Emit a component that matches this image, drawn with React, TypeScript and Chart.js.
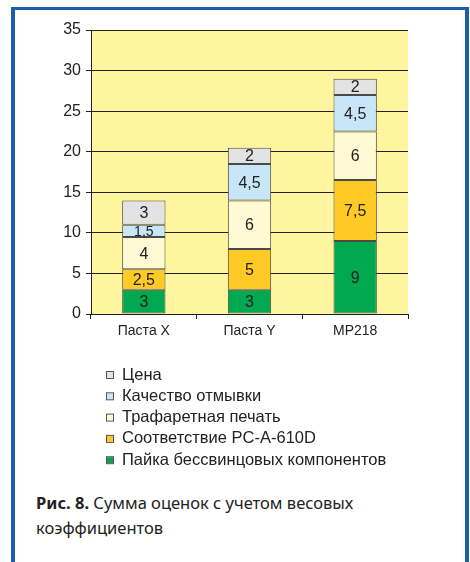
import React, { useEffect, useRef } from "react";
import { Chart, registerables } from "chart.js";

Chart.register(...registerables);

const categories = ["Паста X", "Паста Y", "MP218"];
const leadFreeSoldering = [3, 3, 9];
const ipcCompliance = [2.5, 5, 7.5];
const stencilPrinting = [4, 6, 6];
const cleaningQuality = [1.5, 4.5, 4.5];
const price = [3, 2, 2];
const seriesNames = [
  "Пайка бессвинцовых компонентов",
  "Соответствие PC-A-610D",
  "Трафаретная печать",
  "Качество отмывки",
  "Цена",
];
const seriesColors = ["#00A84F", "#FFC926", "#FFF9D4", "#C7E6F8", "#E3E3E3"];
const yMin = 0;
const yMax = 35;
const yStep = 5;

const FONT = "'Liberation Sans', Arial, sans-serif";

const bgPlugin = {
  id: "plotBg",
  beforeDraw(chart: any) {
    const { ctx, chartArea } = chart;
    ctx.save();
    ctx.fillStyle = "#FFF59E";
    ctx.fillRect(chartArea.left, chartArea.top, chartArea.right - chartArea.left, chartArea.bottom - chartArea.top);
    ctx.restore();
  },
};

const labelPlugin = {
  id: "barLabels",
  afterDatasetsDraw(chart: any) {
    const { ctx } = chart;
    ctx.save();
    ctx.fillStyle = "#222";
    ctx.textAlign = "center";
    ctx.textBaseline = "middle";
    chart.data.datasets.forEach((ds: any, di: number) => {
      const meta = chart.getDatasetMeta(di);
      meta.data.forEach((el: any, i: number) => {
        const p = el.getProps(["x", "y", "base"], true);
        const v = ds.data[i];
        const txt = String(v).replace(".", ",");
        const h = Math.abs(p.base - p.y);
        ctx.font = h < 16 ? `14px ${FONT}` : `16px ${FONT}`;
        ctx.fillText(txt, p.x, (p.y + p.base) / 2 + 1);
      });
    });
    ctx.restore();
  },
};

const legendPlugin = {
  id: "vLegend",
  afterDraw(chart: any) {
    const { ctx } = chart;
    ctx.save();
    ctx.font = `16.5px ${FONT}`;
    ctx.textBaseline = "middle";
    ctx.textAlign = "left";
    const n = chart.data.datasets.length;
    for (let k = 0; k < n; k++) {
      const di = n - 1 - k;
      const ds = chart.data.datasets[di];
      const y = 374 + k * 21.3;
      ctx.fillStyle = ds.backgroundColor;
      ctx.fillRect(107, y - 2, 6, 6);
      ctx.strokeStyle = "#555";
      ctx.lineWidth = 1;
      ctx.strokeRect(106.5, y - 2.5, 7, 7);
      ctx.fillStyle = "#222";
      ctx.fillText(ds.label, 122, y + 1);
    }
    ctx.restore();
  },
};

export default function App() {
  const ref = useRef<HTMLCanvasElement | null>(null);
  useEffect(() => {
    if (!ref.current) return;
    const series = [leadFreeSoldering, ipcCompliance, stencilPrinting, cleaningQuality, price];
    const chart = new Chart(ref.current, {
      type: "bar",
      data: {
        labels: categories,
        datasets: series.map((d, i) => ({
          label: seriesNames[i],
          data: d,
          backgroundColor: seriesColors[i],
          borderColor: "#4a4a4a",
          borderWidth: 1,
          borderSkipped: false,
          categoryPercentage: 1,
          barPercentage: 0.41,
        })),
      },
      options: {
        responsive: false,
        animation: false,
        devicePixelRatio: 1,
        layout: { padding: { left: 51, right: 62, top: 30, bottom: 130 } },
        plugins: { legend: { display: false }, tooltip: { enabled: false } },
        scales: {
          x: {
            stacked: true,
            grid: { drawOnChartArea: false, drawTicks: true, tickLength: 5, color: "#222", offset: true },
            border: { display: true, color: "#222", width: 1 },
            ticks: { color: "#222", font: { family: FONT, size: 14 }, padding: 4 },
            afterFit(scale: any) {
              scale.height = 26;
            },
          },
          y: {
            stacked: true,
            min: yMin,
            max: yMax,
            ticks: { stepSize: yStep, color: "#222", font: { family: FONT, size: 16 }, padding: 5 },
            grid: { color: "#222", lineWidth: 1, tickLength: 5 },
            border: { display: true, color: "#222", width: 1 },
            afterFit(scale: any) {
              scale.width = 40;
            },
          },
        },
      },
      plugins: [bgPlugin, labelPlugin, legendPlugin],
    });
    return () => chart.destroy();
  }, []);

  return (
    <div style={{ position: "absolute", left: 0, top: 0, width: 470, height: 562, background: "#fff", overflow: "hidden" }}>
      <div style={{ position: "absolute", left: 11, top: 7, width: 458, height: 600, borderLeft: "4px solid #1A5FAA", borderTop: "3px solid #1A5FAA", borderRight: "4px solid #1A5FAA", boxSizing: "border-box" }} />
      <canvas ref={ref} width={470} height={470} style={{ position: "absolute", left: 0, top: 0, width: 470, height: 470 }} />
      <div
        style={{
          position: "absolute",
          left: 36,
          top: 490,
          width: 400,
          fontFamily: "'Noto Sans', 'Open Sans', sans-serif",
          fontSize: 16.5,
          lineHeight: "25px",
          color: "#222",
        }}
      >
        <b>Рис. 8.</b> Сумма оценок с учетом весовых коэффициентов
      </div>
    </div>
  );
}
